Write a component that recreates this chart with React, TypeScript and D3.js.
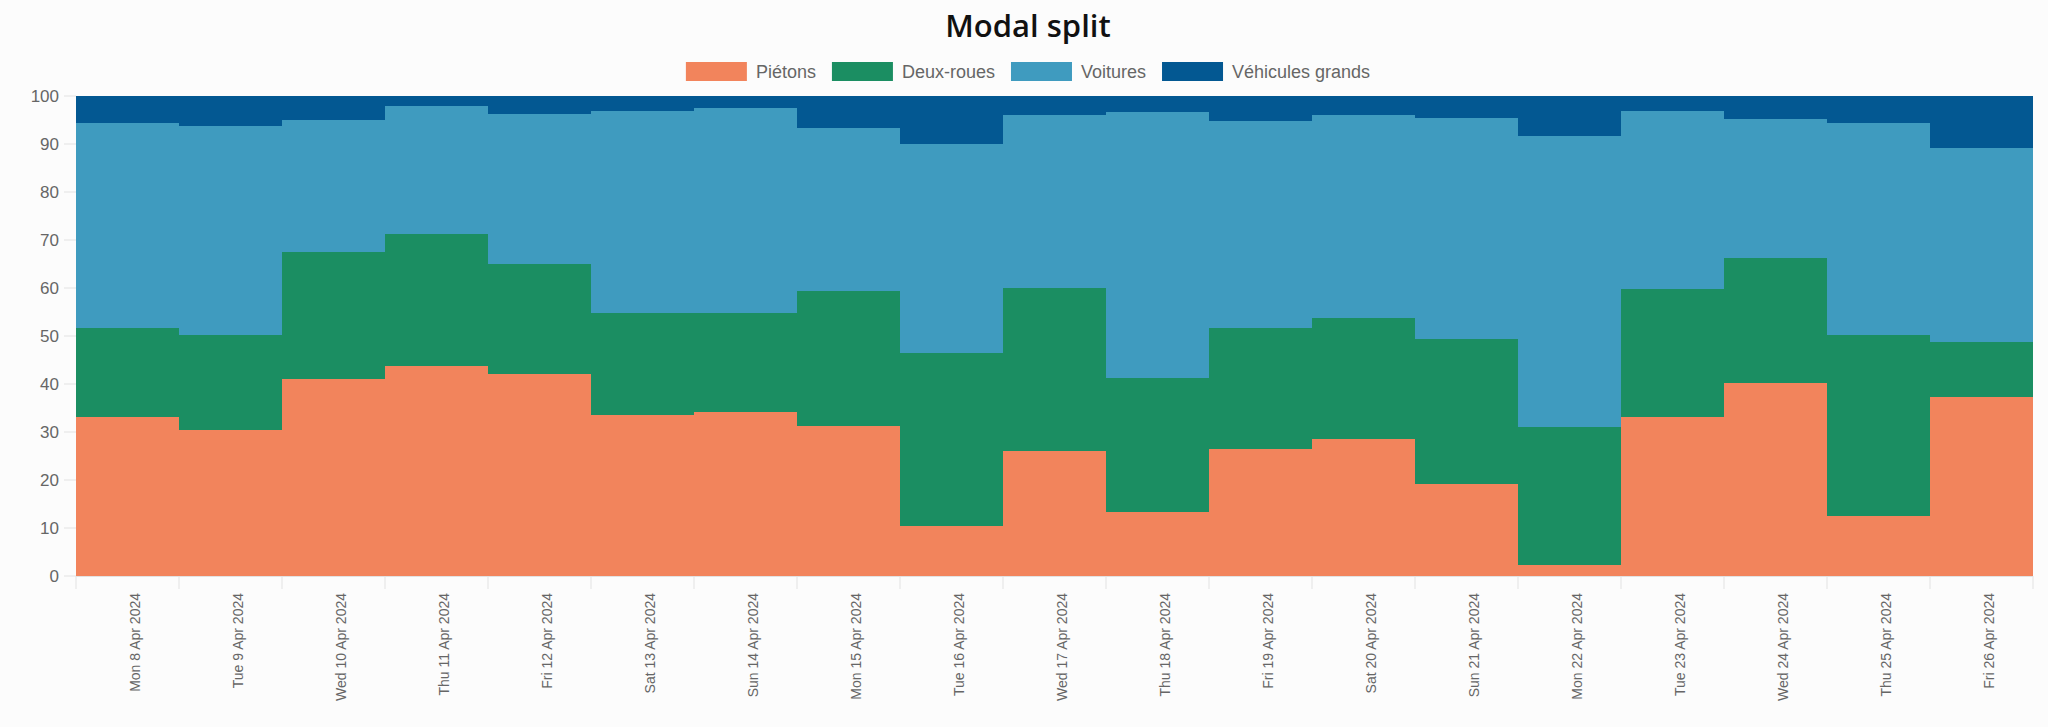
import { useEffect, useRef } from "react"
import * as d3 from "d3"

const days = [
  "Mon 8 Apr 2024",
  "Tue 9 Apr 2024",
  "Wed 10 Apr 2024",
  "Thu 11 Apr 2024",
  "Fri 12 Apr 2024",
  "Sat 13 Apr 2024",
  "Sun 14 Apr 2024",
  "Mon 15 Apr 2024",
  "Tue 16 Apr 2024",
  "Wed 17 Apr 2024",
  "Thu 18 Apr 2024",
  "Fri 19 Apr 2024",
  "Sat 20 Apr 2024",
  "Sun 21 Apr 2024",
  "Mon 22 Apr 2024",
  "Tue 23 Apr 2024",
  "Wed 24 Apr 2024",
  "Thu 25 Apr 2024",
  "Fri 26 Apr 2024",
]

const pietons = [33.2, 30.4, 41.0, 43.8, 42.1, 33.5, 34.2, 31.3, 10.4, 26.0, 13.4, 26.5, 28.5, 19.2, 2.3, 33.2, 40.3, 12.6, 37.2]
const deuxRoues = [18.4, 19.9, 26.6, 27.4, 22.8, 21.2, 20.5, 28.1, 36.0, 34.1, 27.9, 25.1, 25.2, 30.2, 28.8, 26.5, 26.0, 37.7, 11.6]
const voitures = [42.8, 43.4, 27.3, 26.8, 31.3, 42.2, 42.7, 34.0, 43.6, 35.9, 55.3, 43.1, 42.3, 46.0, 60.6, 37.2, 29.0, 44.0, 40.3]
const vehiculesGrands = [5.6, 6.3, 5.1, 2.0, 3.8, 3.1, 2.6, 6.6, 10.0, 4.0, 3.4, 5.3, 4.0, 4.6, 8.3, 3.1, 4.7, 5.7, 10.9]

const seriesNames = ["Piétons", "Deux-roues", "Voitures", "Véhicules grands"]
const seriesColors = ["#f2845c", "#1b8e62", "#3f9bbf", "#035892"]
const yTicks = [0, 10, 20, 30, 40, 50, 60, 70, 80, 90, 100]

const W = 2048
const H = 727
const margin = { top: 96, right: 15, bottom: 151, left: 76 }
const FONT = "'Liberation Sans', Arial, Helvetica, sans-serif"

export default function App() {
  const svgRef = useRef<SVGSVGElement>(null)

  useEffect(() => {
    if (!svgRef.current) return
    const svg = d3.select(svgRef.current)
    svg.selectAll("*").remove()

    const rows = days.map((day, i) => ({
      day,
      [seriesNames[0]]: pietons[i],
      [seriesNames[1]]: deuxRoues[i],
      [seriesNames[2]]: voitures[i],
      [seriesNames[3]]: vehiculesGrands[i],
    }))

    const stacked = d3.stack<any>().keys(seriesNames)(rows)

    const x = d3
      .scaleBand()
      .domain(days)
      .range([margin.left, W - margin.right])
      .padding(0)
    const y = d3
      .scaleLinear()
      .domain([0, 100])
      .range([H - margin.bottom, margin.top])

    const bw = x.bandwidth()

    // each day is a flat step across its whole band
    const area = d3
      .area<{ px: number; y0: number; y1: number }>()
      .x((d) => d.px)
      .y0((d) => y(d.y0))
      .y1((d) => y(d.y1))

    stacked.forEach((layer, li) => {
      const pts = layer.flatMap((d) => {
        const x0 = x(d.data.day) as number
        return [
          { px: x0, y0: d[0], y1: d[1] },
          { px: x0 + bw, y0: d[0], y1: d[1] },
        ]
      })
      svg
        .append("path")
        .attr("d", area(pts))
        .attr("fill", seriesColors[li])
        .attr("shape-rendering", "crispEdges")
    })

    // y axis
    const yAxis = svg.append("g")
    yTicks.forEach((t) => {
      yAxis
        .append("line")
        .attr("x1", margin.left - 12)
        .attr("x2", margin.left)
        .attr("y1", y(t))
        .attr("y2", y(t))
        .attr("stroke", "#e2e2e2")
        .attr("stroke-width", 1)
      yAxis
        .append("text")
        .attr("x", margin.left - 17)
        .attr("y", y(t))
        .attr("dy", "0.35em")
        .attr("text-anchor", "end")
        .attr("font-family", FONT)
        .attr("font-size", 17)
        .attr("fill", "#666")
        .text(t)
    })

    // x axis
    const xAxis = svg.append("g")
    const baseY = y(0)
    xAxis
      .append("line")
      .attr("x1", margin.left)
      .attr("x2", W - margin.right)
      .attr("y1", baseY + 0.5)
      .attr("y2", baseY + 0.5)
      .attr("stroke", "#e2e2e2")
    const edges = days.map((d) => x(d) as number).concat([W - margin.right])
    edges.forEach((ex) => {
      xAxis
        .append("line")
        .attr("x1", ex)
        .attr("x2", ex)
        .attr("y1", baseY)
        .attr("y2", baseY + 13)
        .attr("stroke", "#e2e2e2")
    })
    days.forEach((d) => {
      const cx = (x(d) as number) + bw / 2 + 8
      xAxis
        .append("text")
        .attr("transform", `translate(${cx},${baseY + 17}) rotate(-90)`)
        .attr("dy", "0.35em")
        .attr("text-anchor", "end")
        .attr("font-family", FONT)
        .attr("font-size", 14)
        .attr("fill", "#666")
        .text(d)
    })

    // title
    svg
      .append("text")
      .attr("x", 1028)
      .attr("y", 37)
      .attr("text-anchor", "middle")
      .attr("font-family", "'Open Sans', 'Noto Sans', sans-serif")
      .attr("font-weight", 600)
      .attr("font-size", 31)
      .attr("fill", "#111")
      .text("Modal split")

    // legend, centred under the title
    const legend = svg.append("g")
    const boxW = 61
    const boxH = 19
    const gapText = 9
    const gapItem = 16
    const items = seriesNames.map((name, i) => {
      const g = legend.append("g")
      g.append("rect")
        .attr("width", boxW)
        .attr("height", boxH)
        .attr("fill", seriesColors[i])
      const t = g
        .append("text")
        .attr("x", boxW + gapText)
        .attr("y", boxH / 2)
        .attr("dy", "0.35em")
        .attr("font-family", FONT)
        .attr("font-size", 18)
        .attr("fill", "#666")
        .text(name)
      const tw = (t.node() as SVGTextElement).getComputedTextLength()
      return { g, w: boxW + gapText + tw }
    })
    const total = d3.sum(items, (d) => d.w) + gapItem * (items.length - 1)
    let lx = 1028 - total / 2
    items.forEach((it) => {
      it.g.attr("transform", `translate(${lx},62)`)
      lx += it.w + gapItem
    })
  }, [])

  return (
    <>
      <style>{"body{margin:0;background:#fcfcfc}"}</style>
      <svg ref={svgRef} width={W} height={H} style={{ display: "block", background: "#fcfcfc" }} />
    </>
  )
}
